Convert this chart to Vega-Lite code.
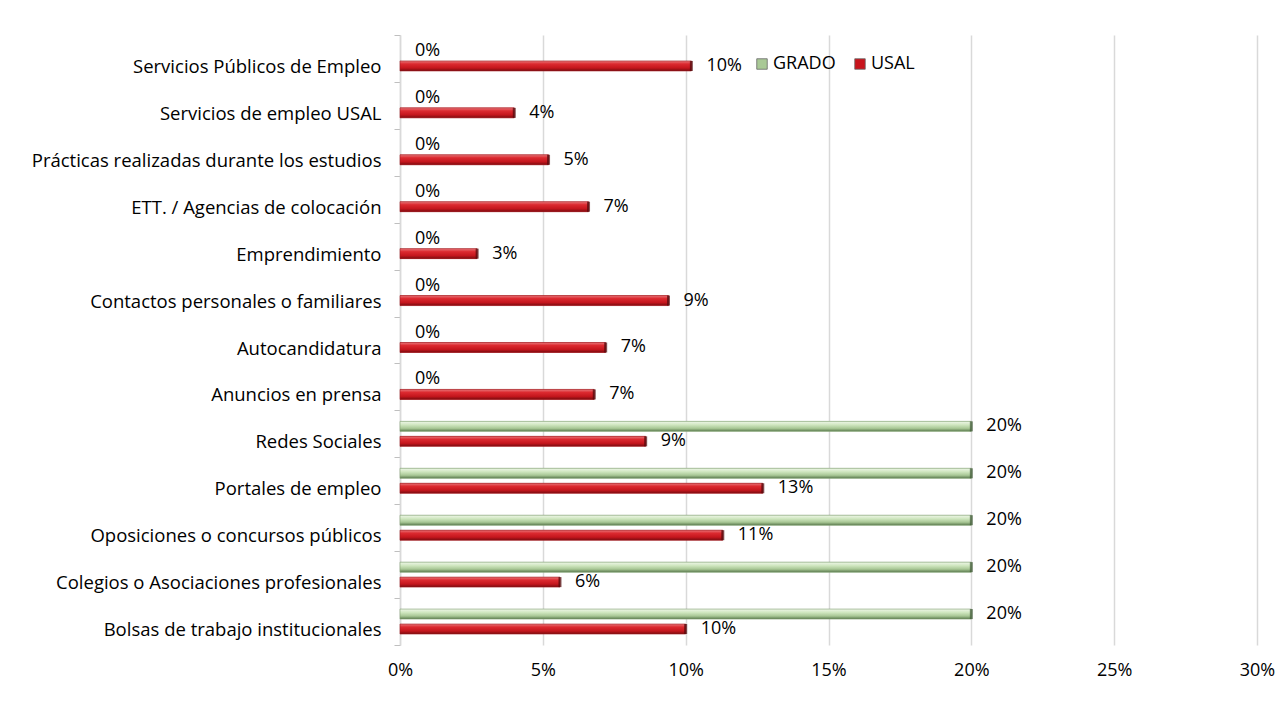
{
  "$schema": "https://vega.github.io/schema/vega-lite/v6.json",
  "width": 857,
  "height": 610,
  "autosize": {"type": "none"},
  "padding": {"left": 400, "top": 35, "right": 29, "bottom": 77},
  "background": "white",
  "config": {
    "view": {"stroke": null},
    "font": "Open Sans",
    "text": {"font": "Open Sans"}
  },
  "data": {
    "values": [
      {"cat": "Servicios Públicos de Empleo", "serie": "GRADO", "v": 0},
      {"cat": "Servicios Públicos de Empleo", "serie": "USAL", "v": 0.102},
      {"cat": "Servicios de empleo USAL", "serie": "GRADO", "v": 0},
      {"cat": "Servicios de empleo USAL", "serie": "USAL", "v": 0.040},
      {"cat": "Prácticas realizadas durante los estudios", "serie": "GRADO", "v": 0},
      {"cat": "Prácticas realizadas durante los estudios", "serie": "USAL", "v": 0.052},
      {"cat": "ETT. / Agencias de colocación ", "serie": "GRADO", "v": 0},
      {"cat": "ETT. / Agencias de colocación ", "serie": "USAL", "v": 0.066},
      {"cat": "Emprendimiento", "serie": "GRADO", "v": 0},
      {"cat": "Emprendimiento", "serie": "USAL", "v": 0.027},
      {"cat": "Contactos personales o familiares", "serie": "GRADO", "v": 0},
      {"cat": "Contactos personales o familiares", "serie": "USAL", "v": 0.094},
      {"cat": "Autocandidatura", "serie": "GRADO", "v": 0},
      {"cat": "Autocandidatura", "serie": "USAL", "v": 0.072},
      {"cat": "Anuncios en prensa", "serie": "GRADO", "v": 0},
      {"cat": "Anuncios en prensa", "serie": "USAL", "v": 0.068},
      {"cat": "Redes Sociales", "serie": "GRADO", "v": 0.20},
      {"cat": "Redes Sociales", "serie": "USAL", "v": 0.086},
      {"cat": "Portales de empleo", "serie": "GRADO", "v": 0.20},
      {"cat": "Portales de empleo", "serie": "USAL", "v": 0.127},
      {"cat": "Oposiciones o concursos públicos", "serie": "GRADO", "v": 0.20},
      {"cat": "Oposiciones o concursos públicos", "serie": "USAL", "v": 0.113},
      {"cat": "Colegios o Asociaciones profesionales", "serie": "GRADO", "v": 0.20},
      {"cat": "Colegios o Asociaciones profesionales", "serie": "USAL", "v": 0.056},
      {"cat": "Bolsas de trabajo institucionales", "serie": "GRADO", "v": 0.20},
      {"cat": "Bolsas de trabajo institucionales", "serie": "USAL", "v": 0.100}
    ]
  },
  "encoding": {
    "y": {
      "field": "cat", "type": "nominal", "sort": null,
      "scale": {"paddingInner": 0, "paddingOuter": 0},
      "axis": {
        "title": null, "labelFontSize": 18.5, "labelColor": "#000000", "labelFont": "Open Sans",
        "tickBand": "extent", "tickSize": 6, "tickColor": "#bfbfbf",
        "domainColor": "#d9d9d9", "domainWidth": 1.5, "labelPadding": 13, "labelLimit": 400,
        "labelOffset": 8
      }
    },
    "yOffset": {
      "field": "serie", "type": "nominal", "sort": ["GRADO", "USAL"],
      "scale": {"paddingInner": 0, "paddingOuter": 0.567}
    },
    "x": {
      "field": "v", "type": "quantitative",
      "scale": {"domain": [0, 0.3], "nice": false},
      "axis": {
        "title": null, "format": ".0%", "values": [0, 0.05, 0.1, 0.15, 0.2, 0.25, 0.3],
        "labelFontSize": 18, "labelColor": "#000000", "labelFont": "Open Sans",
        "ticks": false, "domain": false, "grid": true, "gridColor": "#d9d9d9", "gridWidth": 1.5,
        "labelPadding": 16, "labelFlush": false
      }
    }
  },
  "layer": [
    {
      "mark": {"type": "bar", "size": 10, "strokeWidth": 0},
      "encoding": {
        "color": {
          "field": "serie", "type": "nominal",
          "scale": {"domain": ["GRADO", "USAL"], "range": ["#a9c996", "#c8141c"]},
          "legend": {
            "title": null, "orient": "none", "direction": "horizontal",
            "legendX": 353, "legendY": 20, "labelFontSize": 18, "labelFont": "Open Sans",
            "labelColor": "#000000", "symbolType": "square", "symbolSize": 110,
            "symbolStrokeWidth": 0.8, "symbolStrokeColor": "#666666",
            "columnPadding": 15, "labelOffset": 2
          }
        }
      }
    },
    {
      "transform": [{"filter": "datum.serie === 'USAL'"}],
      "mark": {
        "type": "bar", "size": 10,
        "stroke": "#9e1a1f", "strokeWidth": 0.6,
        "fill": {
          "gradient": "linear", "x1": 0, "y1": 0, "x2": 0, "y2": 1,
          "stops": [
            {"offset": 0, "color": "#e8777a"},
            {"offset": 0.3, "color": "#dc2a30"},
            {"offset": 0.7, "color": "#c4161d"},
            {"offset": 1, "color": "#7a0c10"}
          ]
        }
      },
      "encoding": {}
    },
    {
      "transform": [{"filter": "datum.serie === 'GRADO' && datum.v > 0"}],
      "mark": {
        "type": "bar", "size": 10,
        "stroke": "#7f9d70", "strokeWidth": 0.6,
        "fill": {
          "gradient": "linear", "x1": 0, "y1": 0, "x2": 0, "y2": 1,
          "stops": [
            {"offset": 0, "color": "#eef6e8"},
            {"offset": 0.35, "color": "#cfe6bf"},
            {"offset": 0.7, "color": "#a8c795"},
            {"offset": 1, "color": "#5b7a4e"}
          ]
        }
      },
      "encoding": {}
    },
    {
      "transform": [{"filter": "datum.v > 0"}],
      "mark": {"type": "tick", "orient": "vertical", "thickness": 3, "size": 10},
      "encoding": {
        "color": {
          "field": "serie", "type": "nominal",
          "scale": {"domain": ["GRADO", "USAL"], "range": ["#a9c996", "#c8141c"]},
          "legend": null
        },
        "fill": {
          "field": "serie", "type": "nominal",
          "scale": {"domain": ["GRADO", "USAL"], "range": ["#3f5836", "#4e080b"]},
          "legend": null
        },
        "x": {"field": "v", "type": "quantitative", "bandPosition": 0}
      }
    },
    {
      "mark": {"type": "text", "align": "left", "baseline": "middle", "dx": 15, "dy": 0, "fontSize": 18, "font": "Open Sans", "color": "#000000"},
      "encoding": {
        "text": {"field": "v", "type": "quantitative", "format": ".0%"}
      }
    }
  ]
}
